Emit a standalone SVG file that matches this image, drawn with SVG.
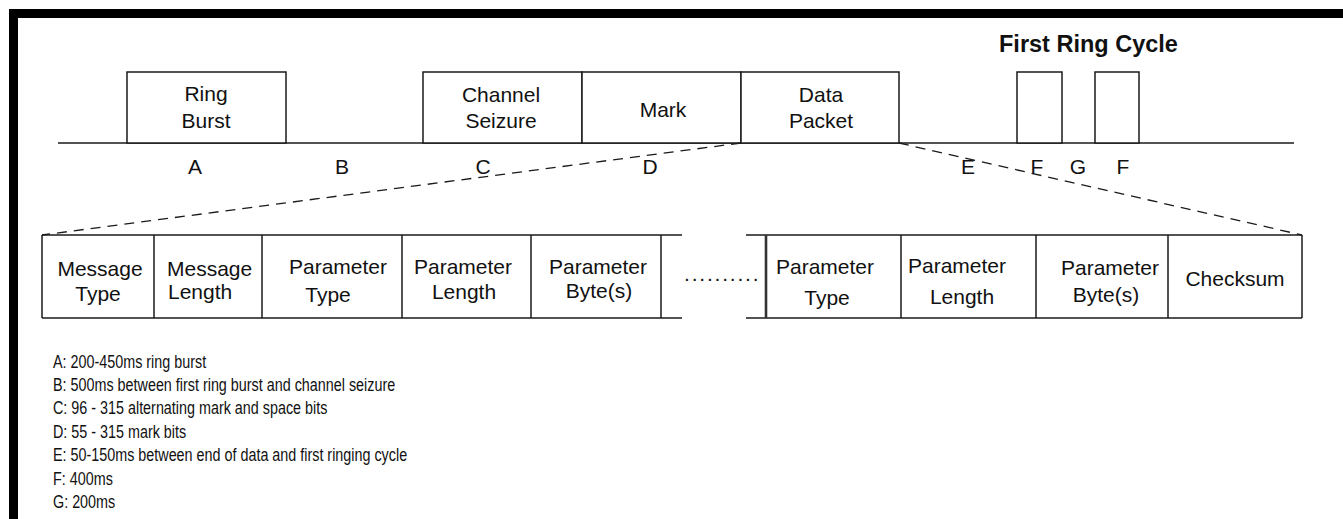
<svg xmlns="http://www.w3.org/2000/svg" width="1343" height="519" viewBox="0 0 1343 519">
<style>
  .box { fill: #ffffff; stroke: #1a1a1a; stroke-width: 1.5; }
  .ln { fill: none; stroke: #1a1a1a; stroke-width: 1.5; }
  .dash { fill: none; stroke: #1a1a1a; stroke-width: 1.3; stroke-dasharray: 10 7; }
  text { font-family: "Liberation Sans", Arial, sans-serif; font-size: 21px; fill: #111111; }
  .c { text-anchor: middle; }
  .title { font-weight: bold; font-size: 23.5px; }
  .legend text { font-size: 17.5px; }
</style>
<rect x="0" y="0" width="1343" height="519" fill="#ffffff"/>
<g id="frame">
  <rect x="9" y="9" width="1334" height="9" fill="#000000"/>
  <rect x="9" y="9" width="9" height="510" fill="#000000"/>
</g>
<g id="title"><text class="title" x="999" y="52">First Ring Cycle</text></g>
<g id="timeline">
  <line class="ln" x1="58" y1="143" x2="1294" y2="143"/>
</g>
<g id="ring-burst">
  <rect class="box" x="127" y="72" width="159" height="71"/>
  <text class="c" x="206" y="101">Ring</text>
  <text class="c" x="206" y="128">Burst</text>
</g>
<g id="channel-seizure">
  <rect class="box" x="423" y="72" width="159" height="71"/>
  <text class="c" x="501" y="102">Channel</text>
  <text class="c" x="501" y="128">Seizure</text>
</g>
<g id="mark">
  <rect class="box" x="582" y="72" width="159" height="71"/>
  <text class="c" x="663" y="117">Mark</text>
</g>
<g id="data-packet">
  <rect class="box" x="741" y="72" width="158" height="71"/>
  <text class="c" x="821" y="102">Data</text>
  <text class="c" x="821" y="128">Packet</text>
</g>
<g id="ring-pulse-1"><rect class="box" x="1017" y="72" width="45" height="71"/></g>
<g id="ring-pulse-2"><rect class="box" x="1095" y="72" width="44" height="71"/></g>
<g id="timing-labels">
  <text class="c" x="195" y="174">A</text>
  <text class="c" x="342" y="174">B</text>
  <text class="c" x="483" y="174">C</text>
  <text class="c" x="650" y="174">D</text>
  <text class="c" x="968" y="174">E</text>
  <text class="c" x="1037" y="174">F</text>
  <text class="c" x="1078" y="174">G</text>
  <text class="c" x="1123" y="174">F</text>
</g>
<g id="connectors">
  <line class="dash" x1="741" y1="143" x2="42" y2="235"/>
  <line class="dash" x1="899" y1="143" x2="1302" y2="235"/>
</g>
<g id="packet-left-frame">
  <line class="ln" x1="42" y1="235" x2="682" y2="235"/>
  <line class="ln" x1="42" y1="318" x2="682" y2="318"/>
  <line class="ln" x1="661" y1="235" x2="661" y2="318"/>
</g>
<g id="message-type">
  <line class="ln" x1="42" y1="235" x2="42" y2="318"/>
  <text class="c" x="100" y="276">Message</text>
  <text class="c" x="98" y="301">Type</text>
</g>
<g id="message-length">
  <line class="ln" x1="154" y1="235" x2="154" y2="318"/>
  <text x="167" y="276">Message</text>
  <text x="168" y="299">Length</text>
</g>
<g id="parameter-type-1">
  <line class="ln" x1="262" y1="235" x2="262" y2="318"/>
  <text class="c" x="338" y="274">Parameter</text>
  <text class="c" x="328" y="302">Type</text>
</g>
<g id="parameter-length-1">
  <line class="ln" x1="402" y1="235" x2="402" y2="318"/>
  <text class="c" x="463" y="274">Parameter</text>
  <text class="c" x="464" y="299">Length</text>
</g>
<g id="parameter-bytes-1">
  <line class="ln" x1="531" y1="235" x2="531" y2="318"/>
  <text class="c" x="598" y="274">Parameter</text>
  <text class="c" x="599" y="298">Byte(s)</text>
</g>
<g id="ellipsis">
  <text x="684" y="281" style="letter-spacing:1.8px">..........</text>
</g>
<g id="packet-right-frame">
  <line class="ln" x1="746" y1="235" x2="1302" y2="235"/>
  <line class="ln" x1="746" y1="318" x2="1302" y2="318"/>
  <line x1="766" y1="235" x2="766" y2="318" stroke="#333333" stroke-width="2.6"/>
</g>
<g id="parameter-type-2">
  <text class="c" x="825" y="274">Parameter</text>
  <text class="c" x="827" y="305">Type</text>
</g>
<g id="parameter-length-2">
  <line class="ln" x1="901" y1="235" x2="901" y2="318"/>
  <text class="c" x="957" y="273">Parameter</text>
  <text class="c" x="962" y="304">Length</text>
</g>
<g id="parameter-bytes-2">
  <line class="ln" x1="1036" y1="235" x2="1036" y2="318"/>
  <text class="c" x="1110" y="275">Parameter</text>
  <text class="c" x="1106" y="302">Byte(s)</text>
</g>
<g id="checksum">
  <line class="ln" x1="1168" y1="235" x2="1168" y2="318"/>
  <line class="ln" x1="1302" y1="235" x2="1302" y2="318"/>
  <text class="c" x="1235" y="286">Checksum</text>
</g>
<g id="legend" class="legend" transform="translate(53,0) scale(0.82,1)">
  <text x="0" y="368">A: 200-450ms ring burst</text>
  <text x="0" y="391">B: 500ms between first ring burst and channel seizure</text>
  <text x="0" y="414.5">C: 96 - 315 alternating mark and space bits</text>
  <text x="0" y="438">D: 55 - 315 mark bits</text>
  <text x="0" y="461.5">E: 50-150ms between end of data and first ringing cycle</text>
  <text x="0" y="485">F: 400ms</text>
  <text x="0" y="508.5">G: 200ms</text>
</g>
</svg>
